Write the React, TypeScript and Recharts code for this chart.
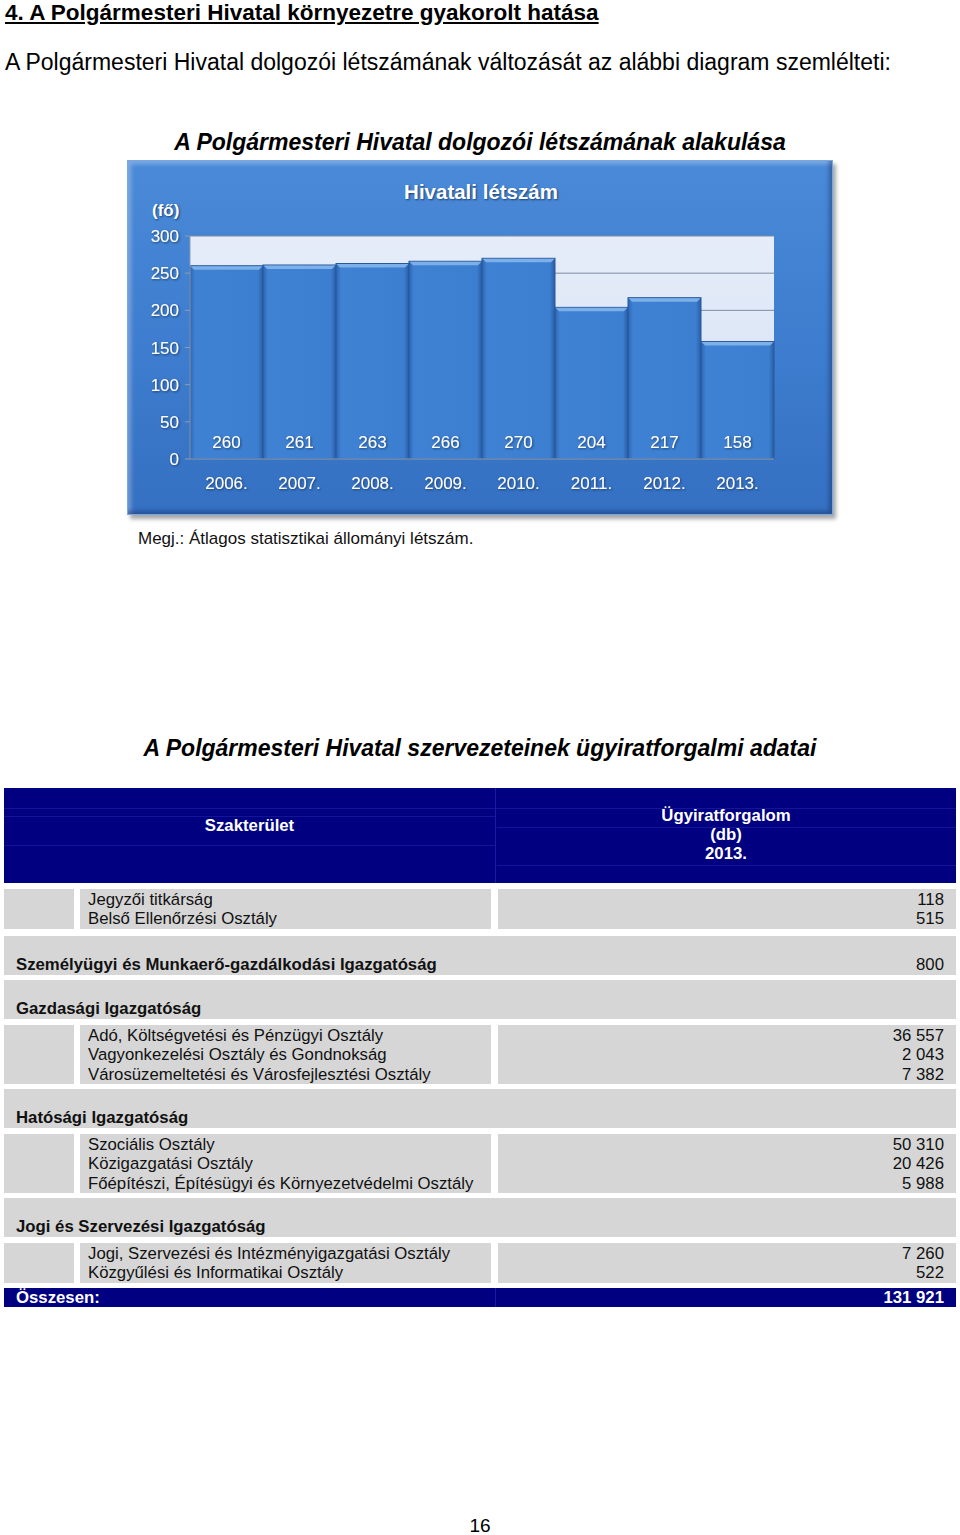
import React from 'react';
import { BarChart, Bar, XAxis, YAxis, CartesianGrid, LabelList } from 'recharts';

const years = ['2006.', '2007.', '2008.', '2009.', '2010.', '2011.', '2012.', '2013.'];
const headcount = [260, 261, 263, 266, 270, 204, 217, 158];
const yTicks = [0, 50, 100, 150, 200, 250, 300];

const jegyzoOffices = ['Jegyzői titkárság', 'Belső Ellenőrzési Osztály'];
const jegyzoValues = [118, 515];
const szemelyugyiName = 'Személyügyi és Munkaerő-gazdálkodási Igazgatóság';
const szemelyugyiValue = 800;
const gazdasagiName = 'Gazdasági Igazgatóság';
const gazdasagiOffices = [
  'Adó, Költségvetési és Pénzügyi Osztály',
  'Vagyonkezelési Osztály és Gondnokság',
  'Városüzemeltetési és Városfejlesztési Osztály',
];
const gazdasagiValues = [36557, 2043, 7382];
const hatosagiName = 'Hatósági Igazgatóság';
const hatosagiOffices = [
  'Szociális Osztály',
  'Közigazgatási Osztály',
  'Főépítészi, Építésügyi és Környezetvédelmi Osztály',
];
const hatosagiValues = [50310, 20426, 5988];
const jogiName = 'Jogi és Szervezési Igazgatóság';
const jogiOffices = ['Jogi, Szervezési és Intézményigazgatási Osztály', 'Közgyűlési és Informatikai Osztály'];
const jogiValues = [7260, 522];

const chartData = years.map((year, i) => ({ year, value: headcount[i] }));

const total = [...jegyzoValues, szemelyugyiValue, ...gazdasagiValues, ...hatosagiValues, ...jogiValues].reduce(
  (a, b) => a + b,
  0
);

const fmt = (n: number) => String(n).replace(/\B(?=(\d{3})+(?!\d))/g, ' ');

const NAVY = '#000080';
const GREY = '#d6d6d6';
const FONT = '"Liberation Sans", Arial, sans-serif';
const TABLE_FS = 16.75;

const BevelBar = (props: any) => {
  const { x, y, width, height } = props;
  if (!height || height <= 0) return null;
  const b = 4;
  return (
    <g>
      <rect x={x} y={y} width={width} height={height} fill="url(#barBody)" stroke="#27589c" strokeWidth={1} />
      <polygon
        points={`${x + 0.5},${y + 0.5} ${x + width - 0.5},${y + 0.5} ${x + width - b},${y + b} ${x + b},${y + b}`}
        fill="#7db0e8"
      />
    </g>
  );
};

const HeadcountChart = () => (
  <div
    style={{
      position: 'absolute',
      left: 127,
      top: 160,
      width: 706,
      height: 355,
      boxSizing: 'border-box',
      background: 'linear-gradient(180deg, #4a8ad8 0%, #3d7cce 55%, #3570c2 100%)',
      border: '1px solid #78a9e2',
      boxShadow:
        '3px 4px 4px rgba(0,0,0,0.35), inset -3px -3px 4px rgba(0,25,70,0.35), inset 3px 3px 4px rgba(255,255,255,0.3)',
    }}
  >
    <div
      style={{
        position: 'absolute',
        left: 0,
        width: 706,
        top: 19,
        textAlign: 'center',
        color: '#fff',
        fontWeight: 'bold',
        fontSize: 20.5,
        textShadow: '1px 1px 2px #1c3f73',
      }}
    >
      Hivatali létszám
    </div>
    <div
      style={{
        position: 'absolute',
        left: 24,
        top: 40,
        color: '#fff',
        fontWeight: 'bold',
        fontSize: 17,
        textShadow: '1px 1px 2px #1c3f73',
      }}
    >
      (fő)
    </div>
    <div style={{ position: 'absolute', left: -1, top: -1 }}>
      <BarChart
        width={706}
        height={355}
        data={chartData}
        margin={{ top: 76, right: 59, bottom: 0, left: 0 }}
        barCategoryGap={0}
        barGap={0}
      >
        <defs>
          <linearGradient id="barBody" x1="0" y1="0" x2="1" y2="0">
            <stop offset="0%" stopColor="#2e66b2" />
            <stop offset="7%" stopColor="#3f82d4" />
            <stop offset="93%" stopColor="#3c7ecf" />
            <stop offset="100%" stopColor="#2a5da6" />
          </linearGradient>
          <linearGradient id="plotBg" x1="0" y1="0" x2="0" y2="1">
            <stop offset="0%" stopColor="#e6edf9" />
            <stop offset="100%" stopColor="#d3e0f3" />
          </linearGradient>
          <filter id="txtShadow" x="-20%" y="-30%" width="140%" height="160%">
            <feDropShadow dx="1" dy="1" stdDeviation="0.8" floodColor="#17355f" floodOpacity="0.85" />
          </filter>
        </defs>
        <CartesianGrid vertical={false} fill="url(#plotBg)" stroke="#7c8ca2" />
        <XAxis
          dataKey="year"
          height={56}
          axisLine={{ stroke: '#8d9db3' }}
          tickLine={false}
          tickMargin={12}
          tick={{ fill: '#fff', fontSize: 17, fontFamily: FONT, filter: 'url(#txtShadow)' }}
        />
        <YAxis
          width={63}
          domain={[0, 300]}
          ticks={yTicks}
          interval={0}
          axisLine={{ stroke: '#8d9db3' }}
          tickLine={{ stroke: '#8d9db3' }}
          tickSize={5}
          tickMargin={6}
          tick={{ fill: '#fff', fontSize: 17, fontFamily: FONT, filter: 'url(#txtShadow)' }}
        />
        <Bar dataKey="value" shape={BevelBar} isAnimationActive={false}>
          <LabelList
            dataKey="value"
            position="insideBottom"
            offset={11}
            fill="#fff"
            fontSize={17}
            fontFamily={FONT}
            filter="url(#txtShadow)"
          />
        </Bar>
      </BarChart>
    </div>
  </div>
);

const Cell = ({ left, top, width, height, bg, children, style }: any) => (
  <div
    style={{
      position: 'absolute',
      left,
      top,
      width,
      height,
      background: bg,
      boxSizing: 'border-box',
      ...style,
    }}
  >
    {children}
  </div>
);

const SubRow = ({ top, offices, values }: { top: number; offices: string[]; values: number[] }) => {
  const h = offices.length * 19.4 + 1;
  return (
    <>
      <Cell left={4} top={top} width={70} height={h} bg={GREY} />
      <Cell
        left={80}
        top={top}
        width={411}
        height={h}
        bg={GREY}
        style={{ paddingLeft: 8, paddingTop: 1, fontSize: TABLE_FS, lineHeight: '19.4px', color: '#111', whiteSpace: 'nowrap' }}
      >
        {offices.map((o) => (
          <div key={o}>{o}</div>
        ))}
      </Cell>
      <Cell
        left={498}
        top={top}
        width={458}
        height={h}
        bg={GREY}
        style={{
          paddingRight: 12,
          paddingTop: 1,
          fontSize: TABLE_FS,
          lineHeight: '19.4px',
          color: '#111',
          textAlign: 'right',
        }}
      >
        {values.map((v, i) => (
          <div key={i}>{fmt(v)}</div>
        ))}
      </Cell>
    </>
  );
};

const GroupRow = ({ top, name, value }: { top: number; name: string; value?: number }) => (
  <Cell
    left={4}
    top={top}
    width={952}
    height={39}
    bg={GREY}
    style={{
      display: 'flex',
      alignItems: 'flex-end',
      justifyContent: 'space-between',
      padding: '0 12px 1px 12px',
      fontSize: TABLE_FS,
      lineHeight: '19px',
      color: '#111',
    }}
  >
    <span style={{ fontWeight: 'bold' }}>{name}</span>
    {value !== undefined && <span>{fmt(value)}</span>}
  </Cell>
);

const CaseTable = () => (
  <>
    <Cell left={4} top={788} width={952} height={95} bg={NAVY} />
    <Cell left={4} top={808} width={952} height={1} bg="#14149a" />
    <Cell left={4} top={816} width={491} height={1} bg="#14149a" />
    <Cell left={4} top={845} width={491} height={1} bg="#14149a" />
    <Cell left={497} top={827} width={459} height={1} bg="#14149a" />
    <Cell left={497} top={865} width={459} height={1} bg="#14149a" />
    <Cell left={495} top={788} width={1} height={95} bg="#1a1aa4" />
    <Cell
      left={4}
      top={816}
      width={491}
      height={20}
      style={{ textAlign: 'center', color: '#fff', fontWeight: 'bold', fontSize: TABLE_FS, lineHeight: '20px' }}
    >
      Szakterület
    </Cell>
    <Cell
      left={496}
      top={806}
      width={460}
      height={60}
      style={{ textAlign: 'center', color: '#fff', fontWeight: 'bold', fontSize: TABLE_FS, lineHeight: '19px' }}
    >
      <div>Ügyiratforgalom</div>
      <div>(db)</div>
      <div>2013.</div>
    </Cell>

    <SubRow top={889} offices={jegyzoOffices} values={jegyzoValues} />
    <GroupRow top={936} name={szemelyugyiName} value={szemelyugyiValue} />
    <GroupRow top={980} name={gazdasagiName} />
    <SubRow top={1025} offices={gazdasagiOffices} values={gazdasagiValues} />
    <GroupRow top={1089} name={hatosagiName} />
    <SubRow top={1134} offices={hatosagiOffices} values={hatosagiValues} />
    <GroupRow top={1198} name={jogiName} />
    <SubRow top={1243} offices={jogiOffices} values={jogiValues} />

    <Cell
      left={4}
      top={1288}
      width={952}
      height={19}
      bg={NAVY}
      style={{
        display: 'flex',
        justifyContent: 'space-between',
        alignItems: 'center',
        padding: '0 12px',
        color: '#fff',
        fontWeight: 'bold',
        fontSize: TABLE_FS,
        lineHeight: '19px',
      }}
    >
      <span>Összesen:</span>
      <span>{fmt(total)}</span>
    </Cell>
    <Cell left={495} top={1288} width={1} height={19} bg="#1a1aa4" />
  </>
);

export default function App() {
  return (
    <div
      style={{
        position: 'absolute',
        left: 0,
        top: 0,
        width: 960,
        height: 1535,
        overflow: 'hidden',
        background: '#fff',
        fontFamily: FONT,
        color: '#000',
      }}
    >
      <div
        style={{
          position: 'absolute',
          left: 5,
          top: 0,
          fontSize: 22.5,
          lineHeight: '26px',
          fontWeight: 'bold',
          textDecoration: 'underline',
          whiteSpace: 'nowrap',
        }}
      >
        4. A Polgármesteri Hivatal környezetre gyakorolt hatása
      </div>
      <div style={{ position: 'absolute', left: 5, top: 49, fontSize: 23, lineHeight: '26px', whiteSpace: 'nowrap' }}>
        A Polgármesteri Hivatal dolgozói létszámának változását az alábbi diagram szemlélteti:
      </div>
      <div
        style={{
          position: 'absolute',
          left: 0,
          width: 960,
          top: 129,
          textAlign: 'center',
          fontSize: 23,
          lineHeight: '26px',
          fontWeight: 'bold',
          fontStyle: 'italic',
        }}
      >
        A Polgármesteri Hivatal dolgozói létszámának alakulása
      </div>

      <HeadcountChart />

      <div style={{ position: 'absolute', left: 138, top: 529, fontSize: 17, lineHeight: '20px', color: '#111' }}>
        Megj.: Átlagos statisztikai állományi létszám.
      </div>

      <div
        style={{
          position: 'absolute',
          left: 0,
          width: 960,
          top: 735,
          textAlign: 'center',
          fontSize: 23,
          lineHeight: '26px',
          fontWeight: 'bold',
          fontStyle: 'italic',
        }}
      >
        A Polgármesteri Hivatal szervezeteinek ügyiratforgalmi adatai
      </div>

      <CaseTable />

      <div
        style={{
          position: 'absolute',
          left: 0,
          width: 960,
          top: 1515,
          textAlign: 'center',
          fontSize: 19,
          lineHeight: '22px',
        }}
      >
        16
      </div>
    </div>
  );
}
